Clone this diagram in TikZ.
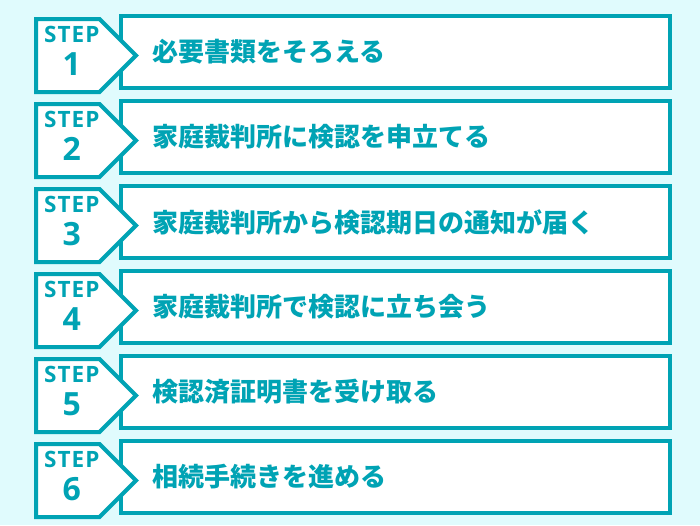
\documentclass[tikz,border=0pt]{standalone}
\usepackage{fontspec}
\setmainfont{Open Sans}
\newfontfamily\jpfont{Noto Sans CJK JP}
\usetikzlibrary{positioning}
\usetikzlibrary{shapes.symbols}
\definecolor{stepteal}{RGB}{0,163,180}
\definecolor{stepbg}{RGB}{224,251,253}

\begin{document}
\begin{tikzpicture}[
  x=1pt,y=-1pt,
  stepbox/.style={draw=stepteal,line width=4pt,fill=white,outer sep=0pt,
    minimum width=549pt,minimum height=72pt,inner xsep=31pt,inner ysep=0pt,
    text width=487pt,align=left,text=stepteal,
    font=\jpfont\bfseries\fontsize{26}{30}\selectfont},
  steptag/.style={signal,signal to=east,signal pointer angle=90,
    draw=stepteal,line width=4pt,fill=white,outer sep=0pt,
    minimum width=100pt,minimum height=73pt,inner sep=0pt,
    align=center,text=stepteal,
    font=\addfontfeature{LetterSpace=5}\bfseries\fontsize{22.5}{33}\selectfont},
  node distance=13pt
  ]
  \fill[stepbg] (0,0) rectangle (700,525);
  \useasboundingbox (0,0) rectangle (700,525);
  \node (box1) [stepbox,anchor=north west] at (121,16) {必要書類をそろえる};
  \node (box2) [stepbox,below=of box1] {家庭裁判所に検認を申立てる};
  \node (box3) [stepbox,below=of box2] {家庭裁判所から検認期日の通知が届く};
  \node (box4) [stepbox,below=of box3] {家庭裁判所で検認に立ち会う};
  \node (box5) [stepbox,below=of box4] {検認済証明書を受け取る};
  \node (box6) [stepbox,below=of box5] {相続手続きを進める};
  % tags on top of the boxes
  \node (tag1) [steptag,anchor=north west] at (36,19)
    {\hspace*{8pt}STEP\\\hspace*{8pt}{\fontsize{32}{33}\selectfont 1}\rule[-9pt]{0pt}{9pt}};
  \node (tag2) [steptag,below=12pt of tag1]
    {\hspace*{8pt}STEP\\\hspace*{8pt}{\fontsize{32}{33}\selectfont 2}\rule[-9pt]{0pt}{9pt}};
  \node (tag3) [steptag,below=12pt of tag2]
    {\hspace*{8pt}STEP\\\hspace*{8pt}{\fontsize{32}{33}\selectfont 3}\rule[-9pt]{0pt}{9pt}};
  \node (tag4) [steptag,below=12pt of tag3]
    {\hspace*{8pt}STEP\\\hspace*{8pt}{\fontsize{32}{33}\selectfont 4}\rule[-9pt]{0pt}{9pt}};
  \node (tag5) [steptag,below=12pt of tag4]
    {\hspace*{8pt}STEP\\\hspace*{8pt}{\fontsize{32}{33}\selectfont 5}\rule[-9pt]{0pt}{9pt}};
  \node (tag6) [steptag,below=12pt of tag5]
    {\hspace*{8pt}STEP\\\hspace*{8pt}{\fontsize{32}{33}\selectfont 6}\rule[-9pt]{0pt}{9pt}};
\end{tikzpicture}
\end{document}
